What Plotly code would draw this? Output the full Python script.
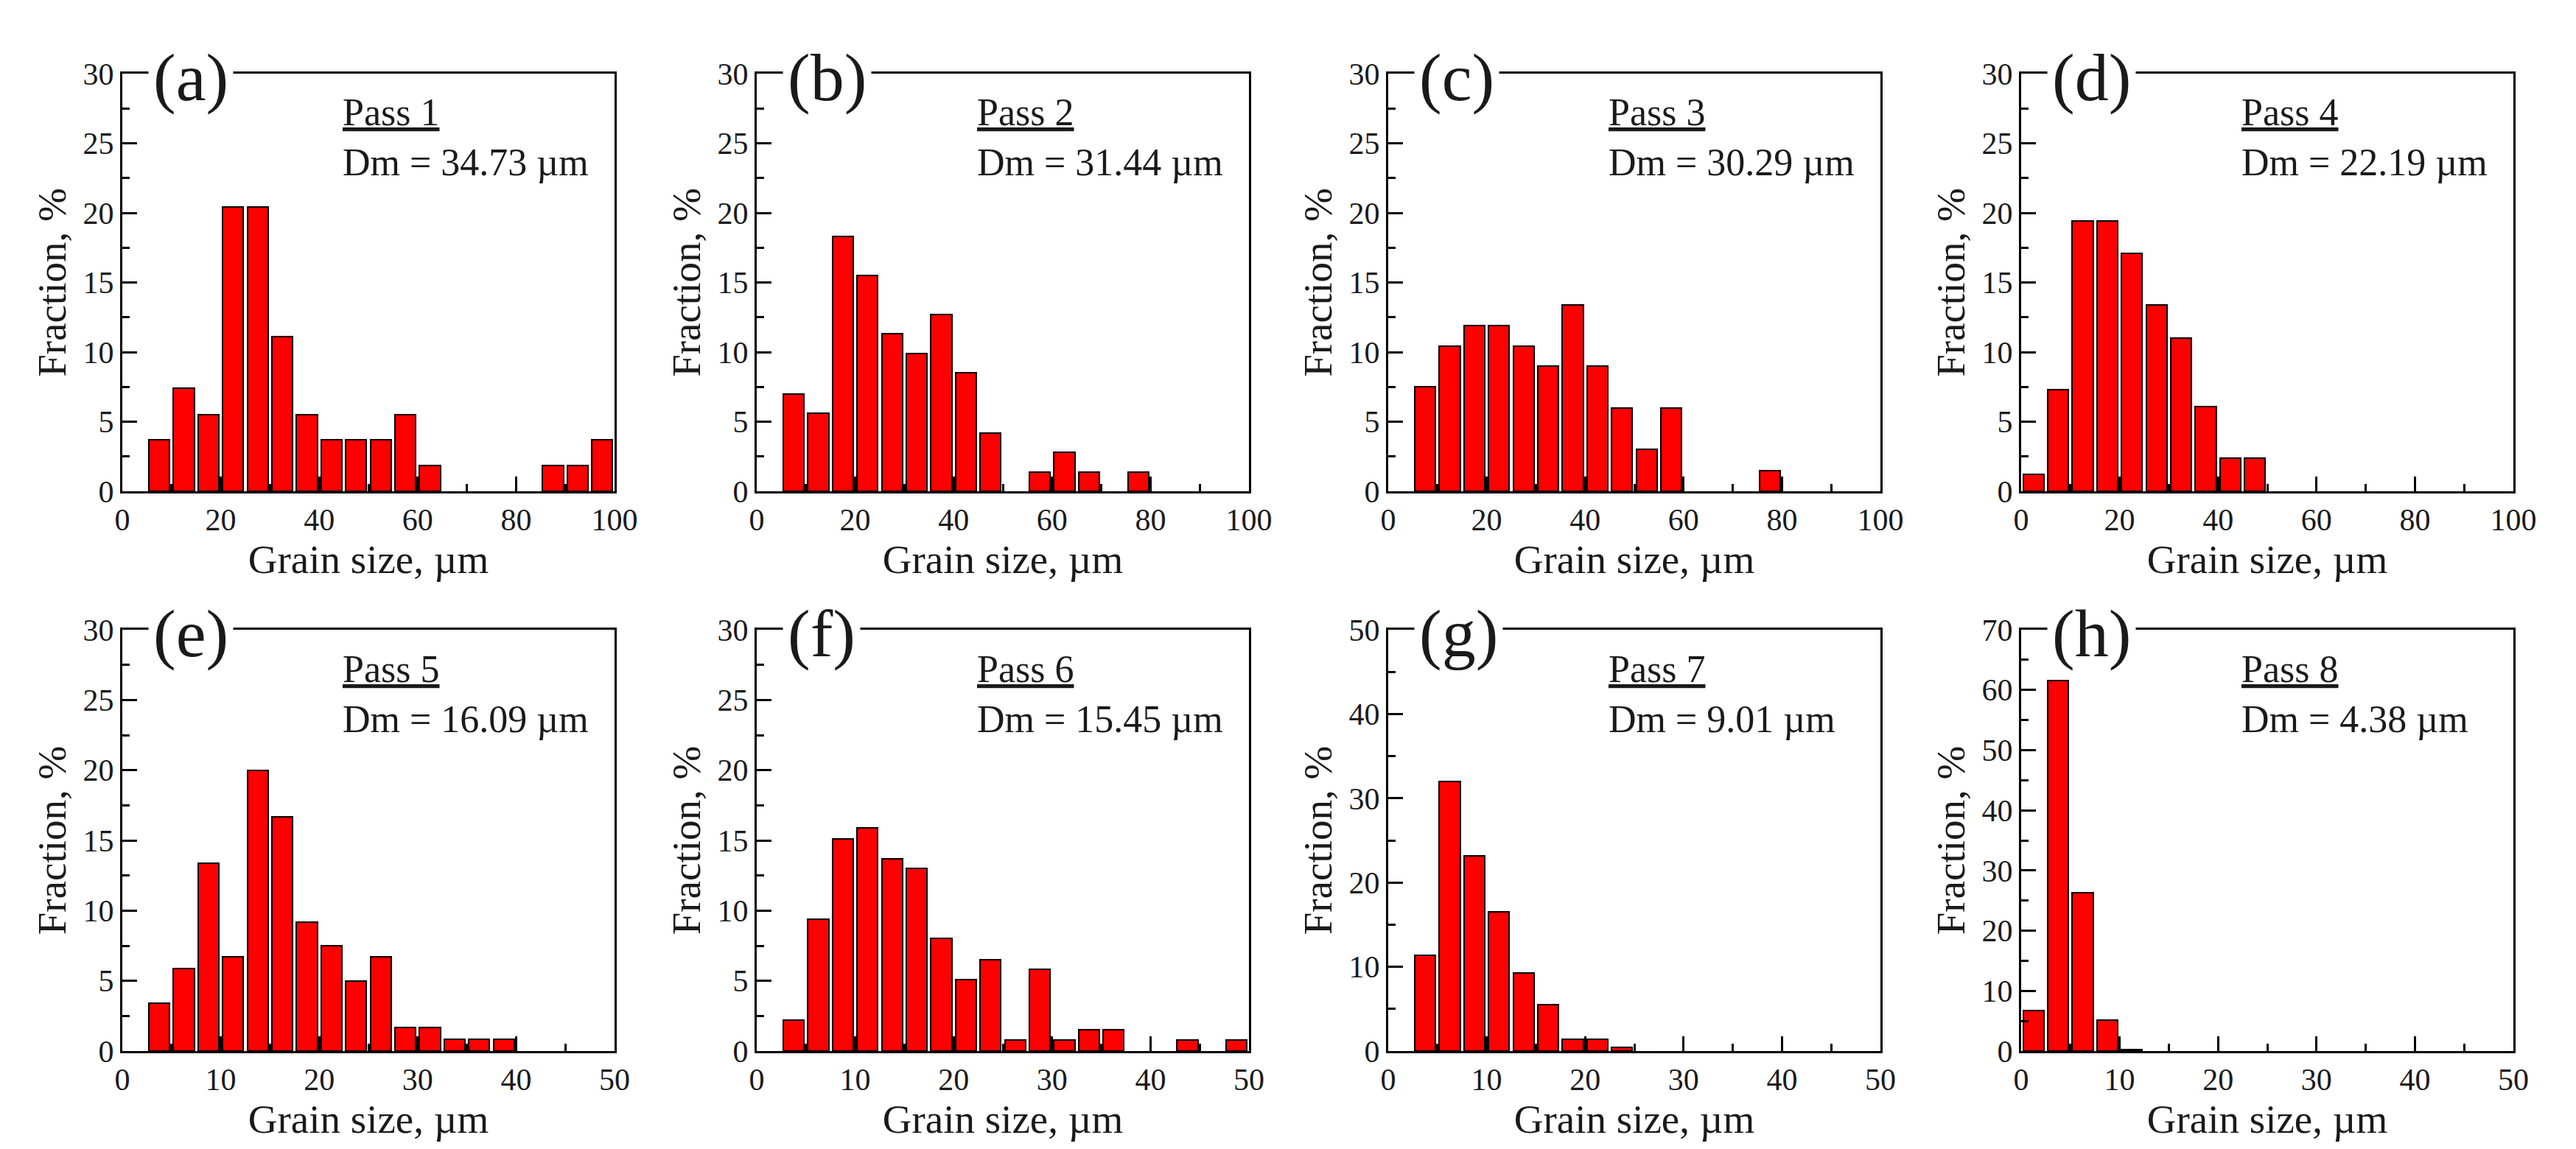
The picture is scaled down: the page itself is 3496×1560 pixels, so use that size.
import plotly.graph_objects as go

FONT = "Liberation Serif, Times New Roman, serif"
RED = "#ff0000"

# grain size bin centres (um) and fraction (%)
size_a = [7.5, 12.5, 17.5, 22.5, 27.5, 32.5, 37.5, 42.5, 47.5, 52.5, 57.5, 62.5, 87.5, 92.5, 97.5]
frac_a = [3.7, 7.4, 5.5, 20.4, 20.4, 11.1, 5.5, 3.7, 3.7, 3.7, 5.5, 1.85, 1.85, 1.85, 3.7]

size_b = [7.5, 12.5, 17.5, 22.5, 27.5, 32.5, 37.5, 42.5, 47.5, 57.5, 62.5, 67.5, 77.5]
frac_b = [7.0, 5.6, 18.3, 15.5, 11.3, 9.9, 12.7, 8.5, 4.2, 1.4, 2.8, 1.4, 1.4]

size_c = [7.5, 12.5, 17.5, 22.5, 27.5, 32.5, 37.5, 42.5, 47.5, 52.5, 57.5, 77.5]
frac_c = [7.5, 10.4, 11.9, 11.9, 10.4, 9.0, 13.4, 9.0, 6.0, 3.0, 6.0, 1.5]

size_d = [2.5, 7.5, 12.5, 17.5, 22.5, 27.5, 32.5, 37.5, 42.5, 47.5]
frac_d = [1.2, 7.3, 19.4, 19.4, 17.1, 13.4, 11.0, 6.1, 2.4, 2.4]

size_e = [3.75, 6.25, 8.75, 11.25, 13.75, 16.25, 18.75, 21.25, 23.75, 26.25, 28.75, 31.25, 33.75, 36.25, 38.75]
frac_e = [3.4, 5.9, 13.4, 6.7, 20.0, 16.7, 9.2, 7.5, 5.0, 6.7, 1.7, 1.7, 0.85, 0.85, 0.85]

size_f = [3.75, 6.25, 8.75, 11.25, 13.75, 16.25, 18.75, 21.25, 23.75, 26.25, 28.75, 31.25, 33.75, 36.25, 43.75, 48.75]
frac_f = [2.2, 9.4, 15.1, 15.9, 13.7, 13.0, 8.0, 5.1, 6.5, 0.8, 5.8, 0.8, 1.5, 1.5, 0.8, 0.8]

size_g = [3.75, 6.25, 8.75, 11.25, 13.75, 16.25, 18.75, 21.25, 23.75]
frac_g = [11.4, 32.0, 23.2, 16.5, 9.3, 5.5, 1.4, 1.4, 0.45]

size_h = [1.25, 3.75, 6.25, 8.75, 11.25]
frac_h = [6.7, 61.5, 26.3, 5.2, 0.3]

labels = ["(a)", "(b)", "(c)", "(d)", "(e)", "(f)", "(g)", "(h)"]
passes = ["Pass 1", "Pass 2", "Pass 3", "Pass 4", "Pass 5", "Pass 6", "Pass 7", "Pass 8"]
dm_text = ["34.73", "31.44", "30.29", "22.19", "16.09", "15.45", "9.01", "4.38"]
sizes = [size_a, size_b, size_c, size_d, size_e, size_f, size_g, size_h]
fracs = [frac_a, frac_b, frac_c, frac_d, frac_e, frac_f, frac_g, frac_h]
bin_w = [5, 5, 5, 5, 2.5, 2.5, 2.5, 2.5]
x_max = [100, 100, 100, 100, 50, 50, 50, 50]
y_max = [30, 30, 30, 30, 30, 30, 50, 70]
y_step = [5, 5, 5, 5, 5, 5, 10, 10]

W, H = 3496, 1560
col_left = [158, 1019, 1876, 2735]
col_width = 668
row_top = [92, 847]
row_bottom = [659, 1419]

fig = go.Figure()
layout = dict(
    width=W, height=H, autosize=False,
    margin=dict(l=0, r=0, t=0, b=0),
    paper_bgcolor="white", plot_bgcolor="white",
    showlegend=False,
    font=dict(family=FONT, color="#1a1a1a"),
    bargap=0,
)
annotations = []

for i in range(8):
    n = i + 1
    xa = "x" if n == 1 else f"x{n}"
    ya = "y" if n == 1 else f"y{n}"
    r, c = divmod(i, 4)
    x0 = col_left[c] / W
    x1 = (col_left[c] + col_width) / W
    y0 = 1 - row_bottom[r] / H
    y1 = 1 - row_top[r] / H

    fig.add_trace(go.Bar(
        x=sizes[i], y=fracs[i],
        width=0.84 * bin_w[i],
        marker=dict(color=RED, line=dict(color="black", width=2)),
        xaxis=xa, yaxis=ya,
    ))

    axis_common = dict(
        showline=True, linecolor="black", linewidth=3, mirror=True,
        showgrid=False, zeroline=False,
        ticks="inside", ticklen=20, tickwidth=3, tickcolor="black",
        tickfont=dict(family=FONT, size=42, color="#1a1a1a"),
        automargin=False,
    )
    x_dtick = x_max[i] / 5
    layout["xaxis" if n == 1 else f"xaxis{n}"] = dict(
        axis_common,
        domain=[x0, x1], anchor=ya,
        range=[0, x_max[i]], tick0=0, dtick=x_dtick,
        minor=dict(tick0=0, dtick=x_dtick / 2, ticks="inside", ticklen=10,
                   tickwidth=3, tickcolor="black"),
        title=dict(text="Grain size, µm", font=dict(family=FONT, size=55),
                   standoff=6),
    )
    layout["yaxis" if n == 1 else f"yaxis{n}"] = dict(
        axis_common,
        domain=[y0, y1], anchor=xa,
        range=[0, y_max[i]], tick0=0, dtick=y_step[i],
        minor=dict(tick0=0, dtick=y_step[i] / 2, ticks="inside", ticklen=10,
                   tickwidth=3, tickcolor="black"),
        title=dict(text="Fraction, %", font=dict(family=FONT, size=55),
                   standoff=6),
    )

    annotations.append(dict(
        xref=f"{xa} domain", yref=f"{ya} domain",
        x=0.052, y=0.992, xanchor="left", yanchor="middle",
        text=labels[i], showarrow=False,
        font=dict(family=FONT, size=92, color="#1a1a1a"),
        bgcolor="white", borderpad=6,
    ))
    annotations.append(dict(
        xref=f"{xa} domain", yref=f"{ya} domain",
        x=0.445, y=0.847, xanchor="left", yanchor="middle", align="left",
        text=f"<u>{passes[i]}</u><br>Dm = {dm_text[i]} µm", showarrow=False,
        font=dict(family=FONT, size=52, color="#1a1a1a"),
    ))

layout["annotations"] = annotations
fig.update_layout(layout)

fig.write_html("out.html")
